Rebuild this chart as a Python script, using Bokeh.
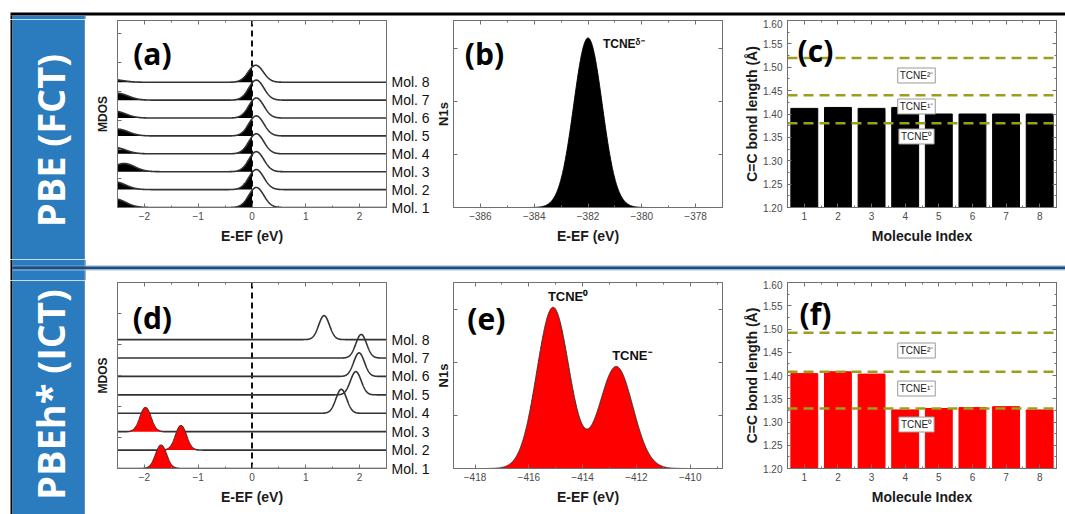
import numpy as np
from bokeh.plotting import figure
from bokeh.layouts import column, row
from bokeh.models import (Range1d, LinearAxis, FixedTicker, SingleIntervalTicker,
                          Label, Span, CustomJSTickFormatter, PrintfTickFormatter)
from bokeh.core.properties import value
from bokeh.embed import file_html
from bokeh.resources import INLINE

# ---------------------------------------------------------------- data
molecules = [1, 2, 3, 4, 5, 6, 7, 8]
mol_labels = ["Mol. 1", "Mol. 2", "Mol. 3", "Mol. 4", "Mol. 5", "Mol. 6", "Mol. 7", "Mol. 8"]

# (a) PBE (FCT) molecular DOS: peak straddling E_F + deeper occupied tail
a_peak_pos = [0.08, 0.08, 0.08, 0.08, 0.08, 0.08, 0.08, 0.07]
a_peak_amp = [1.12, 1.12, 1.12, 1.12, 1.12, 1.12, 1.12, 0.95]
a_peak_width = 0.14
a_tail_pos = [-2.55, -2.55, -2.38, -2.55, -2.50, -2.55, -2.50, -2.60]
a_tail_amp = [0.48, 0.43, 0.46, 0.35, 0.38, 0.38, 0.38, 0.15]
a_tail_width = 0.20

# (d) PBEh* (ICT) molecular DOS
d_peak_pos = [-1.69, -1.32, -1.98, 1.66, 1.93, 1.99, 2.03, 1.34]
d_peak_amp = [1.26, 1.32, 1.30, 1.30, 1.26, 1.28, 1.28, 1.30]
d_peak_width = 0.10

# (b) N1s, PBE
b_peak_pos = [-382.0]
b_peak_amp = [3.2]
b_peak_width = [0.53]

# (e) N1s, PBEh*
e_peak_pos = [-415.1, -412.75]
e_peak_amp = [3.05, 1.93]
e_peak_width = [0.60, 0.62]

# (c), (f) C=C bond lengths
c_bond = [1.412, 1.414, 1.412, 1.414, 1.400, 1.400, 1.400, 1.400]
f_bond = [1.404, 1.408, 1.403, 1.326, 1.329, 1.331, 1.333, 1.326]
ref_names = ["TCNE⁰", "TCNE¹⁻", "TCNE²⁻"]
c_ref_bond = [1.38, 1.44, 1.52]
f_ref_bond = [1.329, 1.408, 1.492]

# ---------------------------------------------------------------- style
AX = "#707070"
LINE = "#333333"
OLIVE = "#9e9e1e"
BLUE = "#2b7bbf"
EDGE = "#22629e"
TF = "Liberation Sans"

FA = (117, 20, 387, 207); FB = (452, 20, 722, 207); FC = (787, 20, 1056, 207)
FD = (117, 282, 387, 468); FE = (452, 282, 722, 468); FF = (787, 282, 1056, 468)
XA = (-2.5, 2.5); YA = (0, 10.45)
XB = (-387, -377); YB = (0, 3.53)
XC = (0.5, 8.5); YC = (1.2, 1.6)
XD = (-2.5, 2.5); YD = (0, 10.1)
XE = (-418.8, -408.8); YE = (0, 3.52)


def gauss(x, pos, amp, width):
    return amp * np.exp(-0.5 * ((x - pos) / width) ** 2)


def px2data(px, py, frame, xr, yr):
    l, t, r, b = frame
    return (xr[0] + (px - l) / (r - l) * (xr[1] - xr[0]),
            yr[0] + (b - py) / (b - t) * (yr[1] - yr[0]))


def style_axis(ax):
    ax.axis_line_color = AX
    ax.major_tick_line_color = AX
    ax.minor_tick_line_color = AX
    ax.major_tick_in = 4
    ax.major_tick_out = 0
    ax.minor_tick_in = 2
    ax.minor_tick_out = 0
    ax.major_label_text_font = TF
    ax.major_label_text_font_size = "10px"
    ax.major_label_text_color = "#4a4a4a"
    ax.major_label_standoff = 4
    ax.axis_label_text_font = TF
    ax.axis_label_text_font_size = "14px"
    ax.axis_label_text_font_style = "bold"
    ax.axis_label_text_color = "#1a1a1a"
    ax.axis_label_standoff = 5


def hide_labels(ax):
    ax.formatter = CustomJSTickFormatter(code="return ''")
    ax.major_label_text_font_size = "0px"
    ax.major_label_standoff = 0


def base_fig(w, h, xr, yr, **kw):
    p = figure(width=w, height=h, x_range=Range1d(*xr), y_range=Range1d(*yr),
               output_backend="svg", toolbar_location=None, title=None,
               frame_align=False, **kw)
    p.grid.visible = False
    p.background_fill_color = "white"
    p.border_fill_color = "white"
    return p


def panel(w, h, xr, yr, bl, br, bt, bb, xticker, yticker, right_ticks=True):
    p = base_fig(w, h, xr, yr, min_border_left=bl, min_border_right=br,
                 min_border_top=bt, min_border_bottom=bb)
    p.outline_line_color = AX
    bottom = p.below[0]
    left = p.left[0]
    bottom.ticker = xticker
    left.ticker = yticker
    top = LinearAxis(ticker=xticker)
    p.add_layout(top, "above")
    extra = [top]
    if right_ticks:
        rt = LinearAxis(ticker=yticker)
        p.add_layout(rt, "right")
        extra.append(rt)
    for ax in [bottom, left] + extra:
        style_axis(ax)
    for ax in extra:
        hide_labels(ax)
    return p, bottom, left


def letter(p, txt, px, py, frame, xr, yr):
    x, y = px2data(px, py, frame, xr, yr)
    p.add_layout(Label(x=x, y=y, text=txt, text_align="center", text_baseline="middle",
                       text_font="Open Sans", text_font_style="bold",
                       text_font_size="30px", text_color="black"))


def mdos_panel(h, bt, bb, xr, yr, ytick_step):
    xt = SingleIntervalTicker(interval=1, num_minor_ticks=2)
    yt = FixedTicker(ticks=[ytick_step * k for k in range(8)], minor_ticks=[])
    p, bottom, left = panel(347, h, xr, yr, 32, 45, bt, bb, xt, yt, right_ticks=False)
    hide_labels(left)
    left.axis_label = "MDOS"
    left.axis_label_text_font_size = "12px"
    left.axis_label_standoff = 8
    bottom.axis_label = "E-EF (eV)"
    ra = LinearAxis(ticker=FixedTicker(ticks=list(range(8)), minor_ticks=[]))
    style_axis(ra)
    ra.major_tick_in = 0
    ra.major_label_overrides = {i: mol_labels[i] for i in range(8)}
    ra.major_label_text_font_size = "14px"
    ra.major_label_text_color = "#111111"
    ra.major_label_standoff = 5
    p.add_layout(ra, "right")
    p.add_layout(Span(location=0, dimension="height", line_color="#111111",
                      line_dash="6 4", line_width=2, level="underlay"))
    return p


def n1s_panel(h, bt, bb, xr, yr):
    xt = SingleIntervalTicker(interval=2, num_minor_ticks=2)
    yt = SingleIntervalTicker(interval=1, num_minor_ticks=0)
    p, bottom, left = panel(298, h, xr, yr, 20, 8, bt, bb, xt, yt)
    hide_labels(left)
    left.axis_label = "N1s"
    left.axis_label_text_font_size = "13px"
    left.axis_label_standoff = 3
    bottom.axis_label = "E-EF (eV)"
    return p


def bond_panel(h, bt, bb, bonds, refs, bar_color, frame, label_py):
    xt = SingleIntervalTicker(interval=1, num_minor_ticks=2)
    yt = SingleIntervalTicker(interval=0.05, num_minor_ticks=2)
    p, bottom, left = panel(335, h, XC, YC, 57, 9, bt, bb, xt, yt)
    left.formatter = PrintfTickFormatter(format="%.2f")
    left.major_label_standoff = 5
    left.axis_label_standoff = 0
    left.axis_label = "C=C bond length (Å)"
    bottom.axis_label = "Molecule Index"
    p.vbar(x=molecules, top=bonds, bottom=YC[0], width=0.8,
           fill_color=bar_color, line_color=bar_color)
    for v in refs:
        p.add_layout(Span(location=v, dimension="width", line_color=OLIVE,
                          line_dash="10 6", line_width=2.5))
    for name, py in zip(ref_names, label_py):
        x, y = px2data(916, py, frame, XC, YC)
        p.add_layout(Label(x=x, y=y, text=name, text_align="center", text_baseline="middle",
                           text_font=TF, text_font_size="10px", text_color="#222222",
                           background_fill_color="white", border_line_color="#9a9a9a",
                           border_line_width=1, padding=2))
    return p


def deco(w, h, bands):
    p = base_fig(w, h, (0, w), (0, h), min_border=0,
                 x_axis_location=None, y_axis_location=None)
    p.outline_line_color = None
    p.quad(left=[b[0] for b in bands], right=[b[1] for b in bands],
           bottom=[b[2] for b in bands], top=[b[3] for b in bands],
           fill_color=[b[4] for b in bands], line_color=None)
    return p


def sidebar(h, text, ty):
    p = deco(85, h, [(10, 12, 0, h, "black"), (12, 84, 0, h, BLUE), (84, 85, 0, h, EDGE)])
    p.text(x=[49], y=[ty], text=[text], angle=np.pi / 2, text_align="center",
           text_baseline="middle", text_color="white", text_font=value("Open Sans"),
           text_font_style="bold", text_font_size="38px")
    return p


# ---------------------------------------------------------------- geometry (page px)
H1, BT1, BB1 = 240, 1, 52     # row 1 : y 19..259
H2, BT2, BB2 = 234, 2, 46     # row 2 : y 280..514

# (a)
fa = mdos_panel(H1, BT1, BB1, XA, YA, 1.62)
xa = np.linspace(XA[0], XA[1], 1201)
for i in range(7, -1, -1):
    f = gauss(xa, a_peak_pos[i], a_peak_amp[i], a_peak_width) + \
        gauss(xa, a_tail_pos[i], a_tail_amp[i], a_tail_width)
    occ = xa <= 0
    fa.varea(x=xa[occ], y1=i, y2=i + f[occ], fill_color="black")
    fa.line(xa, i + f, line_color=LINE, line_width=1.6)
letter(fa, "(a)", 152, 53, FA, XA, YA)

# (b)
fb = n1s_panel(H1, BT1, BB1, XB, YB)
xb = np.linspace(XB[0], XB[1], 1201)
fbv = sum(gauss(xb, p_, a_, w_) for p_, a_, w_ in zip(b_peak_pos, b_peak_amp, b_peak_width))
fb.varea(x=xb, y1=0, y2=fbv, fill_color="black")
fb.line(xb, fbv, line_color="black", line_width=1)
letter(fb, "(b)", 483, 53, FB, XB, YB)
x_, y_ = px2data(602, 43, FB, XB, YB)
fb.add_layout(Label(x=x_, y=y_, text="TCNEᵟ⁻", text_align="left", text_baseline="middle",
                    text_font=TF, text_font_style="bold", text_font_size="12px",
                    text_color="#111111"))

# (c)
fc = bond_panel(H1, BT1, BB1, c_bond, c_ref_bond, "black", FC, [136, 106, 75])
letter(fc, "(c)", 815, 50, FC, XC, YC)

# (d)
fd = mdos_panel(H2, BT2, BB2, XD, YD, 1.68)
xd = np.linspace(XD[0], XD[1], 1201)
curves_d = [gauss(xd, d_peak_pos[i], d_peak_amp[i], d_peak_width) for i in range(8)]
for i in range(8):
    fd.line(xd, i + curves_d[i], line_color=LINE, line_width=1.6)
for i in range(8):
    if d_peak_pos[i] < 0:
        occ = xd <= 0
        fd.varea(x=xd[occ], y1=i, y2=i + curves_d[i][occ], fill_color="#ff0000")
letter(fd, "(d)", 152, 317, FD, XD, YD)

# (e)
fe = n1s_panel(H2, BT2, BB2, XE, YE)
xe = np.linspace(XE[0], XE[1], 1201)
fev = sum(gauss(xe, p_, a_, w_) for p_, a_, w_ in zip(e_peak_pos, e_peak_amp, e_peak_width))
fe.varea(x=xe, y1=0, y2=fev, fill_color="#ff0000")
fe.line(xe, fev, line_color="#333333", line_width=1)
letter(fe, "(e)", 485, 318, FE, XE, YE)
for txt, px, py in [("TCNE⁰", 567, 296), ("TCNE⁻", 631, 355)]:
    x_, y_ = px2data(px, py, FE, XE, YE)
    fe.add_layout(Label(x=x_, y=y_, text=txt, text_align="center", text_baseline="middle",
                        text_font=TF, text_font_style="bold", text_font_size="13px",
                        text_color="#111111"))

# (f)
ff = bond_panel(H2, BT2, BB2, f_bond, f_ref_bond, "#ff0000", FF, [424, 388, 350])
letter(ff, "(f)", 815, 313, FF, XC, YC)

# ---------------------------------------------------------------- frame decoration
# top strip: page y 0..19, black rule at 12..15, sidebar starts at 15
top_strip = deco(1065, 19, [(10, 1065, 4, 7, "black"),
                            (10, 12, 0, 4, "black"),
                            (12, 84, 0, 4, BLUE),
                            (84, 85, 0, 4, EDGE)])
# separator strip: page y 259..280, blue rule at 265..270
sep_strip = deco(1065, 21, [(10, 12, 0, 21, "black"),
                            (12, 84, 0, 21, BLUE),
                            (84, 85, 0, 21, EDGE),
                            (12, 1065, 14, 15, "#86acd2"),
                            (12, 1065, 11, 14, "#1c4d7e"),
                            (12, 1065, 10, 11, "#a9c6e3")])

side1 = sidebar(H1, "PBE (FCT)", 119)
side2 = sidebar(H2, "PBEh* (ICT)", 120)

layout = column(top_strip,
                row(side1, fa, fb, fc),
                sep_strip,
                row(side2, fd, fe, ff))

open("out.html", "w").write(file_html(layout, INLINE))
